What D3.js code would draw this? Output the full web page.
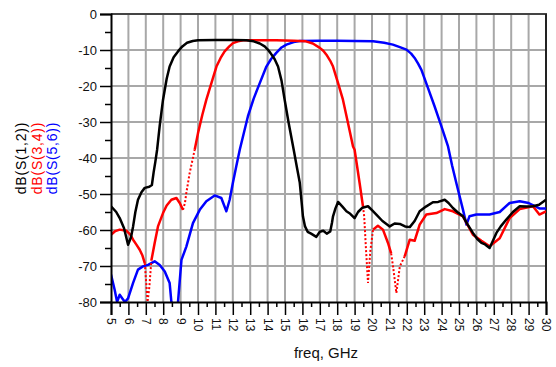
<!DOCTYPE html>
<html>
<head>
<meta charset="utf-8">
<script src="https://cdn.jsdelivr.net/npm/d3@7/dist/d3.min.js"></script>
<style>
  html, body { margin: 0; padding: 0; background: #fff; }
  svg { display: block; font-family: "Liberation Sans", Arial, sans-serif; }
</style>
</head>
<body>
<svg id="chart" width="556" height="367"></svg>
<script>
// Filter responses (freq in GHz, level in dB)
var s12Freq = [5.0, 5.3, 5.5, 5.75, 5.98, 6.15, 6.27, 6.4, 6.55, 6.75, 6.94, 7.2, 7.35, 7.45, 7.55, 7.65, 7.8, 7.99, 8.2, 8.37, 8.6, 8.85, 9.1, 9.37, 9.7, 10.0, 11.0, 12.0, 12.78, 13.2, 13.55, 13.83, 14.0, 14.16, 14.4, 14.6, 14.8, 14.98, 15.2, 15.5, 15.7, 15.85, 15.95, 16.03, 16.15, 16.3, 16.5, 16.8, 17.0, 17.2, 17.4, 17.6, 17.7, 17.76, 17.9, 18.05, 18.3, 18.53, 18.75, 19.0, 19.2, 19.45, 19.77, 20.0, 20.25, 20.6, 21.02, 21.3, 21.6, 21.9, 22.17, 22.45, 22.74, 23.1, 23.5, 23.8, 24.18, 24.4, 24.65, 24.9, 25.23, 25.5, 25.8, 26.05, 26.29, 26.5, 26.76, 26.95, 27.15, 27.4, 27.72, 28.1, 28.49, 28.9, 29.25, 29.6, 30.0];
var s12dB = [-53.4, -55, -56.7, -59.5, -64.1, -62, -59, -55, -51.6, -49.5, -48.3, -48, -47.5, -44, -41, -37.7, -31, -23.8, -18, -14.6, -12, -10.4, -9, -8, -7.5, -7.3, -7.2, -7.2, -7.3, -7.6, -8.2, -9, -9.8, -10.8, -12.5, -14.6, -18.5, -23.8, -30, -37.7, -43, -46.9, -52, -56.2, -59, -60.5, -61, -61.9, -60.5, -60.2, -61, -60.4, -58, -56.2, -54, -52.2, -53.5, -54.8, -55.5, -56.7, -55, -53.8, -53.4, -54.5, -55.7, -57.5, -59, -58.2, -58.3, -59, -59.2, -57.5, -54.8, -53.5, -52.3, -52.2, -51.6, -52.5, -53.9, -55, -56.2, -58.5, -60.8, -62.5, -63.6, -64, -65, -63, -60.8, -59, -57.1, -55, -53.4, -53.5, -53.4, -53, -51.6];

var s34Freq = [5.0, 5.25, 5.5, 5.88, 6.1, 6.27, 6.45, 6.65, 6.8, 6.94, 7.03, 7.1, 7.2, 7.32, 7.51, 7.7, 7.99, 8.2, 8.47, 8.76, 8.95, 9.14, 9.25, 9.33, 9.52, 9.81, 10.0, 10.25, 10.48, 10.77, 11.06, 11.3, 11.53, 11.8, 12.01, 12.3, 12.59, 13.5, 14.5, 15.5, 16.2, 16.6, 17.0, 17.2, 17.38, 17.6, 17.76, 18.05, 18.33, 18.62, 18.91, 19.0, 19.15, 19.29, 19.48, 19.55, 19.65, 19.77, 19.9, 20.06, 20.34, 20.63, 20.92, 21.1, 21.21, 21.4, 21.6, 21.88, 22.17, 22.45, 22.74, 23.12, 23.7, 24.18, 24.65, 25.23, 25.8, 26.29, 26.76, 27.34, 27.91, 28.49, 29.25, 29.62, 30.0];
var s34dB = [-61.3, -60.3, -59.9, -60.2, -61.2, -62.7, -64, -65.5, -67, -69.2, -75, -80, -76, -68.5, -63.6, -59, -55.3, -53.2, -51.6, -51.1, -52.5, -54.4, -52.5, -49.7, -44.2, -37.7, -33.1, -28, -23.8, -19.2, -14.6, -12.2, -10.4, -9, -8.1, -7.6, -7.3, -7.3, -7.3, -7.4, -7.6, -8.2, -9.4, -10.2, -11.3, -13, -14.6, -19.2, -23.8, -30.3, -36.8, -37.7, -42.5, -47, -53.4, -56.2, -65, -74.7, -66, -59.9, -58.8, -59.9, -63.6, -66.5, -70.1, -77.5, -70.1, -67.3, -62.7, -63, -58.5, -55.7, -55.3, -54.2, -54.8, -56.2, -61.3, -63, -64.5, -62.3, -56.7, -54.2, -53.4, -55.7, -54.8];
// Stretches where the S(3,4) trace is drawn dotted
var s34Sparse = [[6.94, 7.32], [9.14, 9.81], [19.48, 20.06], [21.1, 21.88]];

var s56Freq = [5.0, 5.21, 5.35, 5.5, 5.65, 5.8, 5.98, 6.27, 6.55, 6.84, 7.13, 7.51, 7.8, 8.09, 8.37, 8.47, 8.6, 8.8, 8.85, 9.05, 9.33, 9.71, 10.1, 10.48, 10.96, 11.34, 11.63, 11.82, 12.0, 12.2, 12.4, 12.87, 13.2, 13.55, 13.93, 14.2, 14.5, 14.8, 15.08, 15.5, 15.85, 17.0, 18.0, 19.0, 20.06, 20.7, 21.2, 21.6, 21.98, 22.25, 22.45, 22.65, 22.84, 23.22, 23.6, 23.99, 24.37, 24.6, 24.85, 25.23, 25.43, 25.6, 26.0, 26.76, 27.34, 27.91, 28.49, 29.0, 29.62, 30.0];
var s56dB = [-72.4, -76.6, -80, -78, -79, -80, -79, -74.7, -71, -70.1, -69.7, -68.7, -69.7, -71.5, -74.7, -80, -83, -83, -80, -68.3, -64.6, -58.1, -54.4, -52, -50.4, -51.1, -54.8, -51.6, -47, -42.3, -37.7, -28.4, -23.5, -19.2, -14.6, -12.5, -10.8, -9.3, -8.5, -7.8, -7.5, -7.4, -7.4, -7.5, -7.6, -8, -8.5, -9.2, -9.9, -11, -12.2, -13.8, -15.5, -20.6, -25.7, -31.2, -36.8, -42, -47, -54.4, -58.5, -56.2, -55.7, -55.7, -55, -52.5, -52, -52.5, -54, -54];

var xTicks = d3.range(5, 31);
var xMinorTicks = d3.range(5.5, 30, 1);
var yTicks = [0, -10, -20, -30, -40, -50, -60, -70, -80];
var yMinorTicks = [-5, -15, -25, -35, -45, -55, -65, -75];
var traceNames = ['dB(S(1,2))', 'dB(S(3,4))', 'dB(S(5,6))'];
var traceColors = ['#000000', '#ff0000', '#0000ff'];

// Plot box
var LEFT = 111, TOP = 14, RIGHT = 546, BOTTOM = 302;
var GRID = '#a8a8a8';

var svg = d3.select('#chart');

var x = d3.scaleLinear().domain([5, 30]).range([LEFT, RIGHT]);
var y = d3.scaleLinear().domain([0, -80]).range([TOP, BOTTOM]);

function zip(fs, vs) {
  return fs.map(function(f, i) { return { f: f, v: vs[i] }; });
}

// Grid
var grid = svg.append('g');
grid.selectAll('line.vg')
  .data(xTicks.filter(function(t) { return t > 5 && t < 30; }))
  .enter().append('line')
  .attr('x1', function(d) { return x(d); })
  .attr('x2', function(d) { return x(d); })
  .attr('y1', TOP).attr('y2', BOTTOM)
  .attr('stroke', GRID).attr('stroke-width', 2);
grid.selectAll('line.hg')
  .data(yTicks.filter(function(t) { return t < 0 && t > -80; }))
  .enter().append('line')
  .attr('x1', LEFT).attr('x2', RIGHT)
  .attr('y1', function(d) { return y(d); })
  .attr('y2', function(d) { return y(d); })
  .attr('stroke', GRID).attr('stroke-width', 2);

// Frame (top and right)
svg.append('line').attr('x1', LEFT).attr('x2', RIGHT + 1)
  .attr('y1', TOP).attr('y2', TOP)
  .attr('stroke', '#444').attr('stroke-width', 2);
svg.append('line').attr('x1', RIGHT).attr('x2', RIGHT)
  .attr('y1', TOP).attr('y2', BOTTOM)
  .attr('stroke', '#222').attr('stroke-width', 2);

// Traces, clipped to the plot box
svg.append('clipPath').attr('id', 'clip')
  .append('rect').attr('x', LEFT).attr('y', TOP)
  .attr('width', RIGHT - LEFT).attr('height', BOTTOM - TOP);
var traces = svg.append('g').attr('clip-path', 'url(#clip)');

var line = d3.line()
  .x(function(d) { return x(d.f); })
  .y(function(d) { return y(d.v); });

function inSparse(f) {
  return s34Sparse.some(function(r) { return f > r[0] && f < r[1]; });
}
function onSparse(f) {
  return s34Sparse.some(function(r) { return f >= r[0] && f <= r[1]; });
}

// S(5,6) blue
traces.append('path')
  .attr('d', line(zip(s56Freq, s56dB)))
  .attr('fill', 'none').attr('stroke', traceColors[2])
  .attr('stroke-width', 2.5).attr('stroke-linejoin', 'round');

// S(3,4) red: solid part, then dotted deep dips
var s34 = zip(s34Freq, s34dB);
traces.append('path')
  .attr('d', line.defined(function(d) { return !inSparse(d.f); })(s34))
  .attr('fill', 'none').attr('stroke', traceColors[1])
  .attr('stroke-width', 2.5).attr('stroke-linejoin', 'round');
traces.append('path')
  .attr('d', line.defined(function(d) { return onSparse(d.f); })(s34))
  .attr('fill', 'none').attr('stroke', traceColors[1])
  .attr('stroke-width', 2).attr('stroke-dasharray', '2,2');
line.defined(function() { return true; });

// S(1,2) black
traces.append('path')
  .attr('d', line(zip(s12Freq, s12dB)))
  .attr('fill', 'none').attr('stroke', traceColors[0])
  .attr('stroke-width', 2.5).attr('stroke-linejoin', 'round');

// Axes
var yAxis = svg.append('g')
  .attr('transform', 'translate(' + LEFT + ',0)')
  .call(d3.axisLeft(y).tickValues(yTicks).tickSize(11).tickPadding(3)
    .tickFormat(d3.format('d')));
svg.append('g')
  .attr('transform', 'translate(' + LEFT + ',0)')
  .call(d3.axisLeft(y).tickValues(yMinorTicks).tickSize(6).tickFormat(''))
  .select('.domain').remove();

var xAxis = svg.append('g')
  .attr('transform', 'translate(0,' + BOTTOM + ')')
  .call(d3.axisBottom(x).tickValues(xTicks).tickSize(13).tickFormat(d3.format('d')));
svg.append('g')
  .attr('transform', 'translate(0,' + BOTTOM + ')')
  .call(d3.axisBottom(x).tickValues(xMinorTicks).tickSize(5).tickFormat(''))
  .select('.domain').remove();

svg.selectAll('.domain').attr('stroke', '#000').attr('stroke-width', 2);
svg.selectAll('.tick line').attr('stroke', '#000').attr('stroke-width', 1.5);

yAxis.selectAll('text')
  .attr('font-size', 13).attr('fill', '#111')
  .text(function(d) { return d === 0 ? '0' : String(d); });

xAxis.selectAll('text')
  .attr('font-size', 12).attr('fill', '#111')
  .attr('transform', 'rotate(90)')
  .attr('x', 16).attr('y', 0).attr('dy', '0.35em')
  .attr('text-anchor', 'start');

// Axis titles
svg.append('text')
  .attr('x', 326).attr('y', 358)
  .attr('text-anchor', 'middle')
  .attr('font-size', 15).attr('fill', '#111')
  .text('freq, GHz');

var titleX = [21, 36.5, 52];
traceNames.forEach(function(name, i) {
  svg.append('text')
    .attr('transform', 'translate(' + titleX[i] + ',158) rotate(-90)')
    .attr('text-anchor', 'middle')
    .attr('dominant-baseline', 'central')
    .attr('font-size', 14)
    .attr('letter-spacing', 0.8)
    .attr('fill', traceColors[i])
    .text(name);
});
</script>
</body>
</html>
